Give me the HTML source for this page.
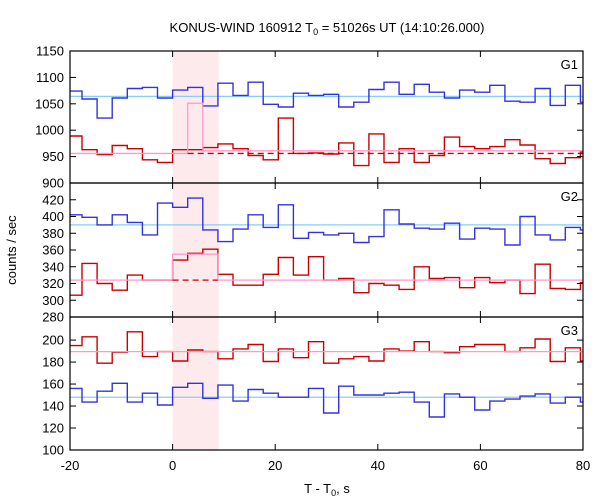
<!DOCTYPE html>
<html><head><meta charset="utf-8">
<style>
body{margin:0;background:#fff;}
svg{display:block;font-family:"Liberation Sans",sans-serif;}
</style></head>
<body>
<svg id="chart" width="600" height="500" viewBox="0 0 600 500">
<text x="327" y="32" text-anchor="middle" font-size="13">KONUS-WIND 160912 T<tspan font-size="9" dy="3">0</tspan><tspan dy="-3"> = 51026s UT (14:10:26.000)</tspan></text>
<text transform="translate(16,250) rotate(-90)" text-anchor="middle" font-size="13">counts / sec</text>
<text x="327" y="493" text-anchor="middle" font-size="13">T - T<tspan font-size="9" dy="3">0</tspan><tspan dy="-3">, s</tspan></text>
<g id="layer"></g>
</svg>
<script>
const binWidth = 2.944;
const binStartK = -7;
const g1Blue = [1074,1059,1023,1061,1079,1081,1061,1076,1081,1046,1089,1066,1091,1049,1044,1070,1066,1068,1044,1053,1077,1091,1068,1087,1072,1061,1076,1072,1085,1055,1053,1079,1047,1085,1053];
const g1Red = [989,963,954,971,965,944,939,963,963,967,974,965,952,944,1023,956,957,955,976,933,993,939,965,939,952,987,969,965,969,982,972,946,937,948,959];
const g2Blue = [402,399,390,402,393,378,416,411,422,384,370,385,402,387,414,374,381,378,380,369,376,408,391,386,385,392,373,386,385,366,400,378,372,387,384];
const g2Red = [306,344,320,312,330,324,324,348,356,361,331,318,318,331,351,330,352,324,326,309,320,318,313,340,326,327,315,327,321,324,308,343,314,313,321];
const g3Red = [195,203,179,189,207.5,185,189.5,181,191,189.5,183,192,196,180.5,192,184,198.5,179,183,185,181,192,190,198.5,189.5,188.5,194,196,196,189.5,193,201,180.5,193,181];
const g3Blue = [156,143.6,153.5,160.7,143.6,151.7,140.9,157,160.7,147,159,144.5,155,151.7,148,148,156,133.7,158,150,150,151.7,152.6,143.6,130,151,148,136.4,144.5,146.3,149,151,142.7,148,143.6];
const blueMeans = [1064,390,148];
const redMeans = [956,324,189.5];
const g1PinkBefore = 956, g1PinkSpike = 1051, g1PinkAfter = 961;
const g2PinkBox = 355;
const xTicks = [-20,0,20,40,60,80];
const g1Ticks = [900,950,1000,1050,1100,1150];
const g2Ticks = [280,300,320,340,360,380,400,420];
const g3Ticks = [100,120,140,160,180,200];
const shadeRange = [0,9];

const NS='http://www.w3.org/2000/svg';
const layer=document.getElementById('layer');
const L=70,R=583;
const X=t=>L+(t+20)*(R-L)/100;
const panels=[{top:51,bot:183,min:900,max:1150,ticks:g1Ticks,label:'G1',blue:g1Blue,red:g1Red},
{top:183,bot:317,min:280,max:440,ticks:g2Ticks,label:'G2',blue:g2Blue,red:g2Red},
{top:317,bot:450,min:100,max:221,ticks:g3Ticks,label:'G3',blue:g3Blue,red:g3Red}];
function mk(tag,attrs){const e=document.createElementNS(NS,tag);for(const k in attrs)e.setAttribute(k,attrs[k]);layer.appendChild(e);return e;}
function stepPath(vals,Y){let d='';vals.forEach((v,i)=>{let a=Math.max(-20,(binStartK+i)*binWidth),b=Math.min(80,(binStartK+i+1)*binWidth);if(b<=a)return;const y=Y(v).toFixed(1);d+=(d?'L':'M')+X(a).toFixed(1)+','+y+'L'+X(b).toFixed(1)+','+y;});return d;}

const sh=mk('rect',{x:X(shadeRange[0]),y:51,width:X(shadeRange[1])-X(shadeRange[0]),height:399,fill:'#fdeaec'});



panels.forEach((p,pi)=>{
  const Y=v=>p.bot-(v-p.min)*(p.bot-p.top)/(p.max-p.min);
  const bm=mk('line',{x1:L,x2:R,y1:Y(blueMeans[pi]),y2:Y(blueMeans[pi]),stroke:'#87cefa','stroke-width':1.3});
  
  
  const bl=mk('path',{d:stepPath(p.blue,Y),fill:'none',stroke:'#3333dd','stroke-width':1.4});
  
  
  const rd=mk('path',{d:stepPath(p.red,Y),fill:'none',stroke:'#cc0000','stroke-width':1.4});
  
  
  let pd;
  if(pi===0){const a=binWidth,b=2*binWidth;pd=`M${L},${Y(g1PinkBefore)}L${X(a)},${Y(g1PinkBefore)}L${X(a)},${Y(g1PinkSpike)}L${X(b)},${Y(g1PinkSpike)}L${X(b)},${Y(g1PinkAfter)}L${R},${Y(g1PinkAfter)}`;}
  else if(pi===1){const a=0,b=3*binWidth;pd=`M${L},${Y(redMeans[1])}L${X(a)},${Y(redMeans[1])}L${X(a)},${Y(g2PinkBox)}L${X(b)},${Y(g2PinkBox)}L${X(b)},${Y(redMeans[1])}L${R},${Y(redMeans[1])}`;}
  else pd=`M${L},${Y(redMeans[2])}L${R},${Y(redMeans[2])}`;
  const pk=mk('path',{d:pd,fill:'none',stroke:'#ff99cc','stroke-width':1.3});
  
  
  if(pi<2){const x1=pi===0?X(binWidth):X(0),x2=pi===0?R:X(3*binWidth);
    const ds=mk('line',{x1:x1,x2:x2,y1:Y(redMeans[pi]),y2:Y(redMeans[pi]),stroke:'#cc0000','stroke-width':1.3,'stroke-dasharray':'6,4'});
    
    }
  const fr=mk('rect',{x:L,y:p.top,width:R-L,height:p.bot-p.top,fill:'none',stroke:'#000','stroke-width':1.2});
  
  
  p.ticks.forEach(v=>{const y=Y(v);
    mk('line',{x1:L,x2:L+6,y1:y,y2:y,stroke:'#000'});mk('line',{x1:R-6,x2:R,y1:y,y2:y,stroke:'#000'});
    const t=mk('text',{x:L-6,y:y+4.5,'text-anchor':'end','font-size':13});t.textContent=v;
    
    });
  xTicks.forEach(v=>{const x=X(v);mk('line',{x1:x,x2:x,y1:p.top,y2:p.top+6,stroke:'#000'});mk('line',{x1:x,x2:x,y1:p.bot-6,y2:p.bot,stroke:'#000'});});
  const lb=mk('text',{x:578,y:p.top+18,'text-anchor':'end','font-size':13});lb.textContent=p.label;
  
  
});
xTicks.forEach(v=>{const t=mk('text',{x:X(v),y:470,'text-anchor':'middle','font-size':13});t.textContent=v;
  
  });
</script>
</body></html>
